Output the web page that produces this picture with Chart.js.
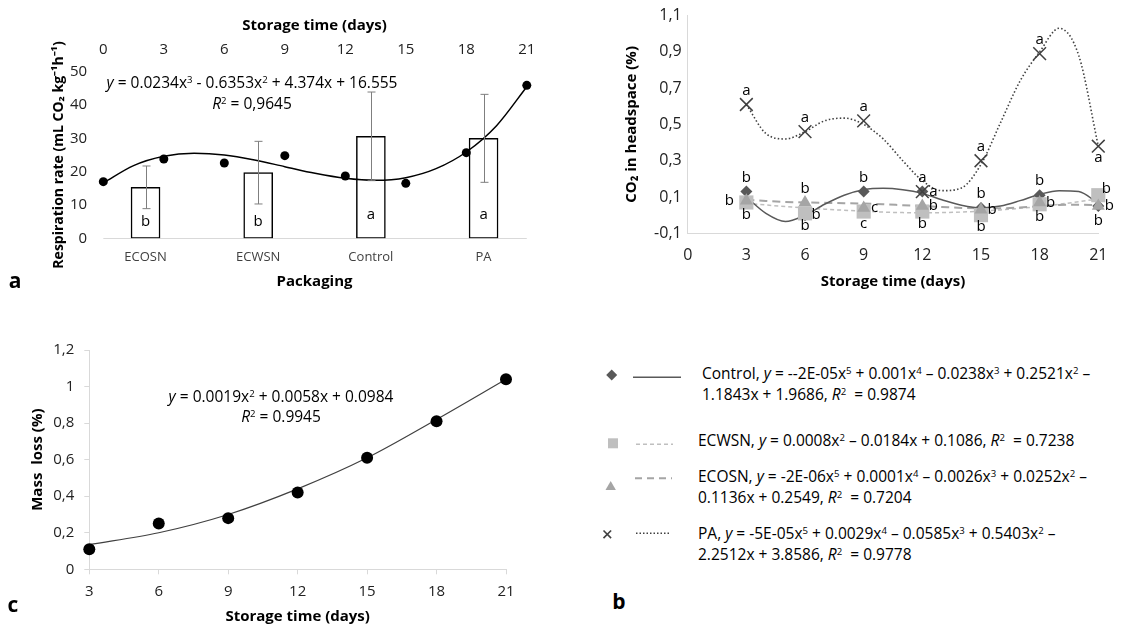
<!DOCTYPE html>
<html>
<head>
<meta charset="utf-8">
<script src="https://cdn.jsdelivr.net/npm/chart.js@4.4.1/dist/chart.umd.min.js"></script>
<style>
  body { margin: 0; background: #fff; width: 1121px; height: 630px; position: relative; overflow: hidden;
         font-family: 'Open Sans', sans-serif; color: #000; }
  canvas, svg, .note, .tag, .key { position: absolute; }
  .note { font-size: 15.5px; white-space: nowrap; transform: translate(-50%, -50%); line-height: 1; }
  .tag { font-weight: bold; font-size: 21px; transform: translate(-50%, -50%); line-height: 1; }
  .key { font-size: 15.5px; line-height: 21px; white-space: nowrap; }
  sup { font-size: 0.62em; vertical-align: 0.55em; line-height: 0; }
</style>
</head>
<body>
<canvas id="chartA" width="560" height="300" style="left:0;top:0"></canvas>
<canvas id="chartB" width="541" height="300" style="left:580px;top:0"></canvas>
<canvas id="chartC" width="560" height="330" style="left:0;top:300px"></canvas>

<div class="note" style="left:252px;top:83px"><i>y</i> = 0.0234x<sup>3</sup> - 0.6353x<sup>2</sup> + 4.374x + 16.555</div>
<div class="note" style="left:252px;top:104px"><i>R</i><sup>2</sup> = 0,9645</div>
<div class="note" style="left:281px;top:397px"><i>y</i> = 0.0019x<sup>2</sup> + 0.0058x + 0.0984</div>
<div class="note" style="left:281px;top:417px"><i>R</i><sup>2</sup> = 0.9945</div>

<div class="tag" style="left:15px;top:280px">a</div>
<div class="tag" style="left:619px;top:601px">b</div>
<div class="tag" style="left:13px;top:604px">c</div>

<!-- legend keys for the CO2 panel -->
<svg width="100" height="200" style="left:595px;top:360px">
  <polygon points="16.7,9.5 22.2,15 16.7,20.5 11.2,15" fill="#595959"/>
  <line x1="38" y1="17.3" x2="86" y2="17.3" stroke="#595959" stroke-width="1.5"/>
  <rect x="13" y="78.3" width="10" height="10" fill="#bfbfbf"/>
  <line x1="41" y1="84.3" x2="78" y2="84.3" stroke="#bfbfbf" stroke-width="1.5" stroke-dasharray="4 3"/>
  <polygon points="15.7,121 20.9,130 10.5,130" fill="#a5a5a5"/>
  <line x1="40" y1="118.3" x2="77" y2="118.3" stroke="#a5a5a5" stroke-width="2" stroke-dasharray="7 5"/>
  <line x1="8.5" y1="170.5" x2="16.1" y2="178.1" stroke="#404040" stroke-width="1.6"/>
  <line x1="16.1" y1="170.5" x2="8.5" y2="178.1" stroke="#404040" stroke-width="1.6"/>
  <line x1="41" y1="173.3" x2="75" y2="173.3" stroke="#404040" stroke-width="1.5" stroke-dasharray="1.5 2"/>
</svg>
<div class="key" style="left:702px;top:363px">Control, <i>y</i> = --2E-05x<sup>5</sup> + 0.001x<sup>4</sup> – 0.0238x<sup>3</sup> + 0.2521x<sup>2</sup> –<br>1.1843x + 1.9686, <i>R</i><sup>2</sup> &nbsp;= 0.9874</div>
<div class="key" style="left:698px;top:430px">ECWSN, <i>y</i> = 0.0008x<sup>2</sup> – 0.0184x + 0.1086, <i>R</i><sup>2</sup> &nbsp;= 0.7238</div>
<div class="key" style="left:698px;top:466px">ECOSN, <i>y</i> = -2E-06x<sup>5</sup> + 0.0001x<sup>4</sup> – 0.0026x<sup>3</sup> + 0.0252x<sup>2</sup> –<br>0.1136x + 0.2549, <i>R</i><sup>2</sup> &nbsp;= 0.7204</div>
<div class="key" style="left:698px;top:523px">PA, <i>y</i> = -5E-05x<sup>5</sup> + 0.0029x<sup>4</sup> – 0.0585x<sup>3</sup> + 0.5403x<sup>2</sup> –<br>2.2512x + 3.8586, <i>R</i><sup>2</sup> &nbsp;= 0.9778</div>

<script>
const dayTicks = [0, 3, 6, 9, 12, 15, 18, 21];

// respiration rate by packaging (bars) and by storage day (dots + cubic fit)
const packaging = ['ECOSN', 'ECWSN', 'Control', 'PA'];
const respMean = [15.3, 19.7, 30.6, 30.0];
const respSd = [6.4, 9.4, 13.3, 13.2];
const respLetters = ['b', 'b', 'a', 'a'];
const respDays = [0, 3, 6, 9, 12, 15, 18, 21];
const respRate = [17.0, 23.8, 22.6, 24.8, 18.7, 16.5, 25.7, 45.9];
const respFitDays = [0, 1.5, 3, 4.5, 6, 7.5, 9, 10.5, 12, 13.5, 15, 16.5, 18, 19.5, 21];
const respFit = [16.6, 21.8, 24.6, 25.5, 25.0, 23.5, 21.5, 19.5, 18.0, 17.4, 18.2, 20.9, 25.9, 33.8, 45.5];
const respTicks = [0, 10, 20, 30, 40, 50];

// CO2 in headspace
const co2Days = [3, 6, 9, 12, 15, 18, 21];
const co2Control = [0.13, 0.0, 0.13, 0.13, 0.04, 0.11, 0.05];
const co2Ecwsn = [0.07, 0.01, 0.02, 0.02, 0.0, 0.06, 0.11];
const co2Ecosn = [0.08, 0.07, 0.04, 0.05, 0.03, 0.07, 0.05];
const co2Pa = [0.61, 0.46, 0.52, 0.13, 0.30, 0.89, 0.38];
const lettersControl = ['b', 'b', 'b', 'a', 'b', 'b', 'b'];
const lettersEcwsn = ['b', 'b', 'c', 'b', 'b', 'b', 'b'];
const lettersEcosn = ['b', 'b', 'c', 'b', 'b', 'b', 'b'];
const lettersPa = ['a', 'a', 'a', 'a', 'a', 'a', 'a'];
const co2FitDays = [3, 4, 5, 6, 7, 8, 9, 10, 11, 12, 13, 14, 15, 16, 17, 18, 19, 20, 21];
const fitControl = [0.10, 0.01, -0.035, 0.0, 0.06, 0.11, 0.14, 0.148, 0.14, 0.12, 0.085, 0.055, 0.04, 0.05, 0.08, 0.115, 0.135, 0.13, 0.065];
const fitEcwsn = [0.065, 0.056, 0.048, 0.04, 0.033, 0.027, 0.022, 0.017, 0.014, 0.013, 0.014, 0.017, 0.022, 0.029, 0.038, 0.048, 0.06, 0.074, 0.09];
const fitEcosn = [0.085, 0.078, 0.073, 0.07, 0.068, 0.066, 0.064, 0.06, 0.055, 0.05, 0.045, 0.04, 0.038, 0.038, 0.042, 0.05, 0.056, 0.058, 0.055];
const fitPa = [0.61, 0.45, 0.42, 0.46, 0.52, 0.535, 0.50, 0.42, 0.30, 0.19, 0.135, 0.15, 0.28, 0.51, 0.74, 0.90, 1.03, 0.88, 0.38];
const co2Ticks = [-0.1, 0.1, 0.3, 0.5, 0.7, 0.9, 1.1];

// mass loss
const massDays = [3, 6, 9, 12, 15, 18, 21];
const massLoss = [0.11, 0.25, 0.28, 0.42, 0.61, 0.81, 1.04];
const massFit = [0.135, 0.20, 0.30, 0.44, 0.61, 0.82, 1.04];
const massTicks = [0, 0.2, 0.4, 0.6, 0.8, 1, 1.2];

Chart.defaults.font.family = "'Open Sans', sans-serif";
Chart.defaults.color = '#222';
Chart.defaults.animation = false;

const pts = (xs, ys) => xs.map((x, i) => ({ x, y: ys[i] }));
const comma = v => String(Math.round(v * 10) / 10).replace('.', ',');
const useTicks = list => scale => { scale.ticks = list.map(value => ({ value })); };
const noGrid = { display: false, drawTicks: false };
const axisTitle = (text, padding) => ({ display: true, text, padding, color: '#000', font: { size: 15, weight: 'bold' } });
const baseOptions = {
  responsive: false,
  devicePixelRatio: 1,
  plugins: { legend: { display: false }, tooltip: { enabled: false } }
};

// error bars, letters inside bars and the light zero line
const barExtras = {
  id: 'barExtras',
  beforeDatasetsDraw(chart) {
    const { ctx, scales: { x2, y } } = chart;
    const yy = Math.round(y.getPixelForValue(0)) + 0.5;
    ctx.save();
    ctx.strokeStyle = '#d9d9d9';
    ctx.lineWidth = 1;
    ctx.beginPath();
    ctx.moveTo(x2.getPixelForValue(dayTicks[0]), yy);
    ctx.lineTo(x2.getPixelForValue(dayTicks[dayTicks.length - 1]), yy);
    ctx.stroke();
    ctx.restore();
  },
  afterDatasetsDraw(chart) {
    const { ctx, scales: { y } } = chart;
    const bars = chart.getDatasetMeta(0).data;
    ctx.save();
    ctx.strokeStyle = '#7f7f7f';
    ctx.lineWidth = 1;
    bars.forEach((bar, i) => {
      const top = y.getPixelForValue(respMean[i] + respSd[i]);
      const bot = y.getPixelForValue(respMean[i] - respSd[i]);
      const x = Math.round(bar.x) + 0.5;
      ctx.beginPath();
      ctx.moveTo(x, top); ctx.lineTo(x, bot);
      ctx.moveTo(x - 4, top); ctx.lineTo(x + 4, top);
      ctx.moveTo(x - 4, bot); ctx.lineTo(x + 4, bot);
      ctx.stroke();
    });
    ctx.fillStyle = '#000';
    ctx.font = "15px 'Open Sans'";
    ctx.textAlign = 'center';
    ctx.textBaseline = 'middle';
    const base = y.getPixelForValue(0);
    bars.forEach((bar, i) => {
      const lift = respLetters[i] === 'a' ? 24 : 17;
      ctx.fillText(respLetters[i], bar.x, base - lift);
    });
    ctx.restore();
  }
};

new Chart(document.getElementById('chartA'), {
  type: 'bar',
  data: {
    labels: packaging,
    datasets: [
      { type: 'bar', data: respMean, xAxisID: 'x', yAxisID: 'y', order: 3, grouped: false,
        backgroundColor: '#fff', borderColor: '#000', borderWidth: 1.5, borderSkipped: false, barThickness: 29 },
      { type: 'line', data: pts(respFitDays, respFit), xAxisID: 'x2', yAxisID: 'y', order: 2,
        borderColor: '#000', borderWidth: 1.5, pointRadius: 0, cubicInterpolationMode: 'monotone', clip: false },
      { type: 'line', data: pts(respDays, respRate), xAxisID: 'x2', yAxisID: 'y', order: 1,
        showLine: false, pointRadius: 4.5, pointBackgroundColor: '#000', pointBorderWidth: 0, clip: false }
    ]
  },
  options: {
    ...baseOptions,
    layout: { padding: { left: 0, right: 20.1, top: 0, bottom: 0 } },
    scales: {
      x: {
        type: 'category', position: 'bottom', offset: true,
        grid: noGrid, border: { display: false },
        ticks: { padding: 11, color: '#404040', font: { size: 13 } },
        title: axisTitle('Packaging', { top: 0, bottom: 9 }),
        afterFit: s => { s.height = 61.7; }
      },
      x2: {
        type: 'linear', position: 'top', min: -0.7, max: 21.65, offset: false,
        afterBuildTicks: useTicks(dayTicks),
        grid: noGrid, border: { display: false },
        ticks: { padding: 13, font: { size: 15 } },
        title: axisTitle('Storage time (days)', { top: 17, bottom: 0 }),
        afterFit: s => { s.height = 71.7; }
      },
      y: {
        min: 0, max: 50,
        afterBuildTicks: useTicks(respTicks),
        grid: noGrid, border: { display: false },
        ticks: { padding: 2, font: { size: 15 } },
        title: { ...axisTitle('Respiration rate (mL CO₂ kg⁻¹h⁻¹)', { top: 51, bottom: 0 }), font: { size: 14, weight: 'bold' } },
        afterFit: s => { s.width = 89.2; }
      }
    }
  },
  plugins: [barExtras]
});

// significance letters beside the CO2 markers
const spotOffset = { t: [0, -14], b: [0, 12], bb: [0, 26], l: [-17, 0], r: [11, 0], tr: [8, -17] };
const co2Letters = {
  id: 'co2Letters',
  afterDatasetsDraw(chart) {
    const { ctx } = chart;
    ctx.save();
    ctx.fillStyle = '#000';
    ctx.font = "15px 'Open Sans'";
    ctx.textAlign = 'center';
    ctx.textBaseline = 'middle';
    chart.data.datasets.forEach((ds, di) => {
      if (!ds.letters) return;
      chart.getDatasetMeta(di).data.forEach((pt, i) => {
        const [dx, dy] = spotOffset[ds.spots[i]];
        ctx.fillText(ds.letters[i], pt.x + dx, pt.y + dy);
      });
    });
    ctx.restore();
  }
};

const fitLine = (days, vals, color, width, dash, order) => ({
  data: pts(days, vals), borderColor: color, borderWidth: width, borderDash: dash, order,
  pointRadius: 0, cubicInterpolationMode: 'monotone', clip: false
});
const markers = (vals, style, radius, color, letters, spots, order) => ({
  data: pts(co2Days, vals), showLine: false, pointStyle: style, pointRadius: radius,
  pointBackgroundColor: color, pointBorderColor: color, pointBorderWidth: style === 'crossRot' ? 1.5 : 0,
  letters, spots, order, clip: false
});

new Chart(document.getElementById('chartB'), {
  type: 'line',
  data: {
    datasets: [
      fitLine(co2FitDays, fitEcwsn, '#bfbfbf', 1.5, [4, 3], 12),
      fitLine(co2FitDays, fitEcosn, '#a5a5a5', 2, [8, 5], 11),
      fitLine(co2FitDays, fitControl, '#595959', 1.5, [], 10),
      fitLine(co2FitDays, fitPa, '#404040', 1.6, [1.5, 2.2], 9),
      markers(co2Control, 'rectRot', 6, '#595959', lettersControl, ['t', 'r', 't', 'r', 't', 't', 'tr'], 8),
      markers(co2Ecwsn, 'rect', 10, '#bfbfbf', lettersEcwsn, ['b', 'b', 'b', 'b', 'b', 'b', 'bb'], 7),
      markers(co2Ecosn, 'triangle', 7.5, '#a5a5a5', lettersEcosn, ['l', 't', 'r', 'r', 'r', 'r', 'r'], 6),
      markers(co2Pa, 'crossRot', 9, '#404040', lettersPa, ['t', 't', 't', 't', 't', 't', 'b'], 5)
    ]
  },
  options: {
    ...baseOptions,
    layout: { padding: { left: 0, right: 22.7, top: 15, bottom: 0 } },
    scales: {
      x: {
        type: 'linear', min: 0, max: 21,
        afterBuildTicks: useTicks(dayTicks),
        grid: noGrid, border: { color: '#d9d9d9' },
        ticks: { padding: 13, font: { size: 16 } },
        title: axisTitle('Storage time (days)', { top: 0, bottom: 9 }),
        afterFit: s => { s.height = 66.7; }
      },
      y: {
        min: -0.1, max: 1.1,
        afterBuildTicks: useTicks(co2Ticks),
        grid: noGrid, border: { color: '#d9d9d9' },
        ticks: { padding: 6, font: { size: 16 }, callback: comma },
        title: axisTitle('CO₂ in headspace (%)', { top: 43, bottom: 0 }),
        afterFit: s => { s.width = 107.7; }
      }
    }
  },
  plugins: [co2Letters]
});

new Chart(document.getElementById('chartC'), {
  type: 'line',
  data: {
    datasets: [
      { data: pts(massDays, massFit), borderColor: '#404040', borderWidth: 1.2, pointRadius: 0,
        cubicInterpolationMode: 'monotone', order: 2, clip: false },
      { data: pts(massDays, massLoss), showLine: false, pointRadius: 6, pointBackgroundColor: '#000',
        pointBorderWidth: 0, order: 1, clip: false }
    ]
  },
  options: {
    ...baseOptions,
    layout: { padding: { left: 0, right: 54, top: 50, bottom: 0 } },
    scales: {
      x: {
        type: 'linear', min: 3, max: 21,
        afterBuildTicks: useTicks(massDays),
        grid: { drawOnChartArea: false, tickLength: 5, color: '#d9d9d9' }, border: { color: '#d9d9d9' },
        ticks: { padding: 8, font: { size: 15 } },
        title: axisTitle('Storage time (days)', { top: 0, bottom: 4 }),
        afterFit: s => { s.height = 60.7; }
      },
      y: {
        min: 0, max: 1.2,
        afterBuildTicks: useTicks(massTicks),
        grid: { drawOnChartArea: false, tickLength: 5, color: '#d9d9d9' }, border: { color: '#d9d9d9' },
        ticks: { padding: 10, font: { size: 15 }, callback: comma },
        title: axisTitle('Mass  loss (%)', { top: 29, bottom: 0 }),
        afterFit: s => { s.width = 89.3; }
      }
    }
  }
});
</script>
</body>
</html>
